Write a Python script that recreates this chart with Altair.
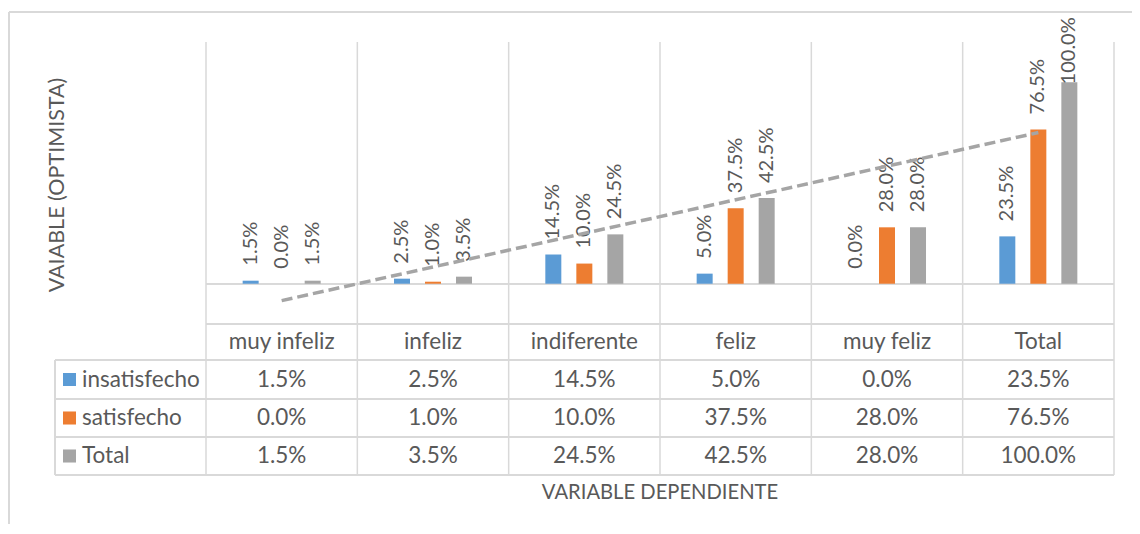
import altair as alt
import pandas as pd

categories = ["muy infeliz", "infeliz", "indiferente", "feliz", "muy feliz", "Total"]
series = ["insatisfecho", "satisfecho", "Total"]
insatisfecho = [1.5, 2.5, 14.5, 5.0, 0.0, 23.5]
satisfecho = [0.0, 1.0, 10.0, 37.5, 28.0, 76.5]
total = [1.5, 3.5, 24.5, 42.5, 28.0, 100.0]
colors = ["#5B9BD5", "#ED7D31", "#A5A5A5"]
y_title = "VAIABLE (OPTIMISTA)"
x_title = "VARIABLE DEPENDIENTE"

rows = []
for s, vals in zip(series, [insatisfecho, satisfecho, total]):
    for i, (c, v) in enumerate(zip(categories, vals)):
        rows.append({"cat": c, "idx": i + 1, "series": s, "value": v})
df = pd.DataFrame(rows)
cat_df = pd.DataFrame({"cat": categories})
ser_df = pd.DataFrame({"series": series})

W, H = 908, 282
FONT = "Lato"
TXT = "#595959"
GRID = "#D9D9D9"
TS = 22.5

xscale = alt.Scale(domain=categories, paddingInner=0, paddingOuter=0)
yscale = alt.Scale(domain=[-20, 120], nice=False, zero=False)
cscale = alt.Scale(domain=series, range=colors)
oscale = alt.Scale(domain=series, paddingInner=0, paddingOuter=0.94)

base = alt.Chart(df)

layers = []

# vertical grid lines (column boundaries)
layers.append(alt.Chart(cat_df).mark_rule(color=GRID, strokeWidth=1.5).encode(
    x=alt.X("cat:N", scale=xscale, axis=None, bandPosition=0),
    y=alt.value(0), y2=alt.value(433)))
layers.append(alt.Chart(cat_df[cat_df.cat == "Total"]).mark_rule(color=GRID, strokeWidth=1.5).encode(
    x=alt.X("cat:N", scale=xscale, axis=None, bandPosition=1),
    y=alt.value(0), y2=alt.value(433)))

# zero line
layers.append(alt.Chart(cat_df).mark_rule(color=GRID, strokeWidth=1.5).encode(
    y=alt.datum(0, scale=yscale, axis=None), x=alt.value(0), x2=alt.value(W)))
# table horizontal lines
layers.append(alt.Chart(cat_df).mark_rule(color=GRID, strokeWidth=1.5).encode(
    y=alt.value(282), x=alt.value(0), x2=alt.value(W)))
for yy in [318, 357, 395, 433]:
    layers.append(alt.Chart(cat_df).mark_rule(color=GRID, strokeWidth=1.5).encode(
        y=alt.value(yy), x=alt.value(-151), x2=alt.value(W)))
layers.append(alt.Chart(cat_df).mark_rule(color=GRID, strokeWidth=1.5).encode(
    x=alt.value(-151), y=alt.value(318), y2=alt.value(433)))

# outer chart border (top and left)
layers.append(alt.Chart(cat_df).mark_rule(color=GRID, strokeWidth=1.5).encode(
    y=alt.value(-30), x=alt.value(-197), x2=alt.value(940)))
layers.append(alt.Chart(cat_df).mark_rule(color=GRID, strokeWidth=1.5).encode(
    x=alt.value(-197), y=alt.value(-30), y2=alt.value(520)))

# bars
layers.append(base.mark_bar(width=16).encode(
    x=alt.X("cat:N", scale=xscale, axis=None),
    xOffset=alt.XOffset("series:N", scale=oscale),
    y=alt.Y("value:Q", scale=yscale, axis=None),
    y2=alt.datum(0),
    color=alt.Color("series:N", scale=cscale, legend=None)))

# bar labels
layers.append(base.transform_calculate(
    ly="min(datum.value, 91.5)",
    lab="format(datum.value, '.1f') + '%'").mark_text(
    angle=270, align="left", baseline="middle", dx=15, font=FONT, fontSize=20, color=TXT).encode(
    x=alt.X("cat:N", scale=xscale, axis=None),
    xOffset=alt.XOffset("series:N", scale=oscale),
    y=alt.Y("ly:Q", scale=yscale, axis=None),
    text="lab:N"))

# trend line for Total series
layers.append(base.transform_filter(alt.datum.series == "Total").transform_regression(
    "idx", "value", extent=[1, 6]).mark_line(
    color="#A5A5A5", strokeWidth=3.5, strokeDash=[11, 5]).encode(
    x=alt.X("idx:Q", scale=alt.Scale(domain=[0.5, 6.5], nice=False, zero=False), axis=None),
    y=alt.Y("value:Q", scale=yscale, axis=None)))

# table header
layers.append(alt.Chart(cat_df).mark_text(font=FONT, fontSize=TS, color=TXT, baseline="middle").encode(
    x=alt.X("cat:N", scale=xscale, axis=None), y=alt.value(300), text="cat:N"))

# table rows
row_y = [337.5, 376, 414]
for s, ry in zip(series, row_y):
    layers.append(base.transform_filter(alt.datum.series == s).transform_calculate(
        lab="format(datum.value, '.1f') + '%'").mark_text(
        font=FONT, fontSize=TS, color=TXT, baseline="middle").encode(
        x=alt.X("cat:N", scale=xscale, axis=None), y=alt.value(ry), text="lab:N"))
    sd = ser_df[ser_df.series == s]
    layers.append(alt.Chart(sd).mark_square(size=170, opacity=1).encode(
        x=alt.value(-136.5), y=alt.value(ry),
        color=alt.Color("series:N", scale=cscale, legend=None)))
    layers.append(alt.Chart(sd).mark_text(font=FONT, fontSize=TS, color=TXT, align="left", baseline="middle").encode(
        x=alt.value(-124), y=alt.value(ry), text="series:N"))

# titles
layers.append(alt.Chart(cat_df.head(1)).mark_text(font=FONT, fontSize=21.5, color=TXT, angle=270,
                                                  baseline="middle", align="center").encode(
    x=alt.value(-148), y=alt.value(143), text=alt.value(y_title)))
layers.append(alt.Chart(cat_df.head(1)).mark_text(font=FONT, fontSize=20.2, color=TXT,
                                                  baseline="middle", align="center").encode(
    x=alt.value(454), y=alt.value(451), text=alt.value(x_title)))

chart = alt.layer(*layers).resolve_scale(x="independent").properties(
    width=W, height=H,
    autosize=alt.AutoSizeParams(type="none"),
    padding={"left": 198, "top": 34, "right": 18, "bottom": 200},
).configure_view(stroke=None)

chart.save("out.html", embed_options={"renderer": "svg", "actions": False})
